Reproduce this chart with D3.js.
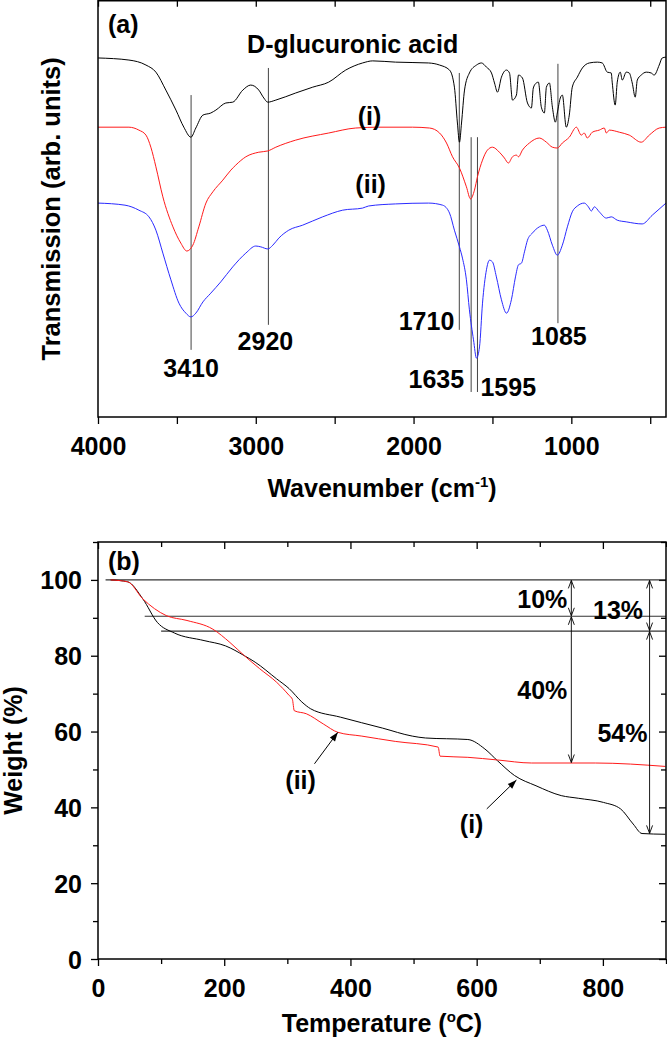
<!DOCTYPE html>
<html><head><meta charset="utf-8">
<script src="https://cdn.jsdelivr.net/npm/d3@7"></script>
<style>
body{margin:0;background:#fff;}
text{font-family:"Liberation Sans",Arial,Helvetica,sans-serif;font-weight:bold;fill:#000;}
</style></head><body>
<svg id="c" width="667" height="1039"></svg>
<script>
// ---------- Panel (a): FTIR spectra (wavenumber cm-1, transmission arb. units) ----------
const gluWn = [4000,3804,3696,3633,3570,3506,3456,3411,3380,3335,3285,3253,3190,3146,3082,3032,2981,2949,2924,2873,2747,2639,2538,2430,2323,2259,2114,1905,1835,1772,1741,1722,1709,1696,1677,1646,1601,1570,1538,1506,1487,1468,1443,1411,1392,1373,1348,1335,1310,1278,1253,1241,1222,1209,1190,1171,1158,1139,1120,1101,1089,1070,1057,1032,1013,994,962,930,886,835,804,772,747,741,722,709,690,677,652,633,614,595,582,557,525,494,475,443,424,400];
const gluT  = [86.1,85.6,84.4,82.7,78.4,73.6,69.5,67.1,69.3,72.4,72.9,73.6,75.3,75.5,78.4,79.6,78.4,76.5,75.5,76.0,77.7,79.1,80.3,83.2,84.9,85.4,85.1,84.9,84.4,83.2,79.1,70.5,65.9,70.5,78.4,82.5,84.4,84.9,83.9,82.5,80.1,77.9,81.5,83.2,82.5,76.0,77.2,82.0,81.3,75.3,74.1,78.9,80.1,80.3,74.3,72.9,79.1,80.1,74.3,70.7,72.9,76.5,77.2,69.5,72.4,79.1,81.5,83.7,84.9,85.1,84.9,82.7,82.5,80.3,74.8,80.3,82.7,80.8,82.7,82.5,80.1,76.7,80.8,82.0,82.7,82.5,82.0,84.4,86.1,86.3];

const iWn = [4000,3804,3741,3696,3665,3633,3589,3525,3475,3437,3399,3361,3316,3272,3209,3158,3127,3063,2981,2924,2873,2747,2538,2367,2222,2006,1899,1835,1791,1753,1709,1665,1639,1614,1595,1563,1532,1500,1456,1424,1399,1373,1348,1335,1310,1266,1203,1158,1120,1089,1057,1013,968,937,918,899,867,823,791,778,759,696,633,557,506,443,400];
const iT  = [69.5,69.5,68.8,67.6,64.7,60.0,52.8,45.6,41.7,39.8,41.2,45.6,51.3,54.0,56.8,59.2,60.4,62.4,63.5,63.8,64.7,66.4,68.1,69.3,69.5,69.5,69.3,68.1,65.7,62.4,59.7,55.2,52.3,54.4,57.6,61.6,64.0,64.7,63.5,62.1,60.9,62.4,62.8,62.4,64.0,65.7,66.9,65.9,64.7,64.5,65.7,67.1,69.5,67.6,68.1,66.9,68.3,68.8,69.3,68.1,68.8,68.3,67.6,65.9,67.6,69.3,69.5];

const iiWn = [4000,3829,3741,3677,3633,3589,3538,3487,3443,3411,3380,3335,3285,3222,3146,3063,3000,2968,2924,2892,2854,2791,2703,2576,2449,2323,2285,2114,1905,1816,1772,1741,1709,1690,1665,1646,1620,1601,1582,1563,1538,1519,1500,1475,1443,1411,1380,1354,1335,1316,1297,1278,1247,1203,1171,1152,1120,1089,1057,1025,994,962,918,892,873,854,823,778,747,709,652,551,487,400];
const iiT  = [51.3,50.8,49.6,48.0,44.8,39.3,32.9,27.3,24.9,24.0,24.9,27.6,29.7,32.4,36.0,39.3,41.0,40.8,40.3,41.2,42.9,44.8,46.0,48.0,49.6,50.1,50.6,51.1,51.3,50.8,48.9,44.8,40.8,38.1,32.9,25.7,18.5,14.1,16.8,27.3,35.3,37.6,37.2,33.6,28.1,24.9,28.1,33.6,36.5,36.9,39.6,42.4,44.1,45.6,46.0,44.8,41.2,38.8,41.2,45.6,49.2,50.6,51.3,50.4,49.4,50.4,49.2,47.7,48.0,47.2,46.8,46.3,48.4,51.3];

const wnMajorTicks = [4000,3000,2000,1000];
const wnMinorTicks = [3500,2500,1500,500];
// peak markers: wavenumber, top and bottom (arb. units)
const peakWn  = [3410,2920,1710,1635,1595,1085];
const peakTop = [77.2,83.7,82.5,67.1,67.1,84.7];
const peakBot = [16.1,22.1,20.9,6.0,6.0,22.5];

// ---------- Panel (b): TGA ----------
const tgaTempI = [20,47,71,94,121,168,202,232,249,283,303,323,337,384,451,498,519,586,613,633,660,694,734,761,801,828,848,862,899];
const tgaWI    = [100,99.5,95,88.8,86,84,82.6,80,78.3,73.9,71.3,67.8,66,63.8,60.9,58.8,58.3,57.9,55.4,52.3,48.4,45.7,43.1,42.4,41.3,39.6,35.6,33.1,32.9];
const tgaTempII = [20,47,71,108,141,182,209,232,256,283,303,308,311,330,357,380,418,471,539,542,586,633,687,788,899];
const tgaWII    = [100,99.5,95,90.6,89.3,87,83.5,80,76.6,73,69.5,68.5,65.5,64.7,62,59.8,58.8,57.4,55.9,53.5,53.2,52.5,51.7,51.7,50.8];
const tempLabelTicks = [0,200,400,600,800];
const tempMinorTicks = [100,300,500,700,900];
const wLabelTicks = [0,20,40,60,80,100];
const wMinorTicks = [10,30,50,70,90,110];
const levelLines = [100,90.4,86.5];
const levelStart = [12,74,100];

// ---------- drawing ----------
const svg = d3.select('#c');
const L = 98, R = 666;
const aTop = 0.75, aBot = 417, bTop = 542, bBot = 959;
const defs = svg.append('defs');
defs.append('clipPath').attr('id','clipA').append('rect').attr('x',L).attr('y',aTop).attr('width',R-L).attr('height',aBot-aTop);
defs.append('clipPath').attr('id','clipB').append('rect').attr('x',L).attr('y',bTop).attr('width',R-L).attr('height',bBot-bTop);
defs.append('marker').attr('id','openHead').attr('markerUnits','userSpaceOnUse')
  .attr('viewBox','-10 -5 12 10').attr('refX',0).attr('refY',0).attr('markerWidth',12).attr('markerHeight',10)
  .attr('orient','auto-start-reverse')
  .append('path').attr('d','M-8,-3 L0,0 L-8,3').attr('fill','none').attr('stroke','#000').attr('stroke-width',0.9);
defs.append('marker').attr('id','fillHead').attr('markerUnits','userSpaceOnUse')
  .attr('viewBox','-11 -5 12 10').attr('refX',0).attr('refY',0).attr('markerWidth',12).attr('markerHeight',10)
  .attr('orient','auto')
  .append('path').attr('d','M-9,-3.2 L0,0 L-9,3.2 Z').attr('fill','#000');

// Panel A scales
const xA = d3.scaleLinear().domain([4000,400]).range([L,R]);
const yA = d3.scaleLinear().domain([0,100]).range([aBot,0]);

function tickAxis(g, axis){ g.call(axis); g.select('.domain').remove(); g.selectAll('line').attr('stroke','#000').attr('stroke-width',1.3); }

// bottom / top ticks A
const gA = svg.append('g');
gA.append('g').attr('transform',`translate(0,${aBot})`).call(g=>tickAxis(g,
  d3.axisBottom(xA).tickValues(wnMajorTicks.concat(wnMinorTicks)).tickSize(7)
   .tickFormat(d=> wnMajorTicks.includes(d)? d : '')))
  .selectAll('text').attr('font-size',25).attr('y',20).attr('dy','0.71em');
gA.append('g').attr('transform',`translate(0,${aTop})`).call(g=>tickAxis(g,
  d3.axisTop(xA).tickValues(wnMajorTicks.concat(wnMinorTicks)).tickSize(-6).tickFormat('')));

// spectra
const lineA = d3.line().x(d=>xA(d[0])).y(d=>yA(d[1])).curve(d3.curveMonotoneX);
const specG = svg.append('g').attr('clip-path','url(#clipA)');
peakWn.forEach((w,i)=>{
  specG.append('line').attr('x1',xA(w)).attr('x2',xA(w)).attr('y1',yA(peakTop[i])).attr('y2',yA(peakBot[i]))
    .attr('stroke','#444').attr('stroke-width',1);
});
[[gluWn,gluT,'#000'],[iWn,iT,'#ff1a1a'],[iiWn,iiT,'#2a2aff']].forEach(([w,t,c])=>{
  specG.append('path').datum(w.map((d,i)=>[d,t[i]])).attr('d',lineA).attr('fill','none').attr('stroke',c).attr('stroke-width',1);
});
svg.append('rect').attr('x',L).attr('y',aTop).attr('width',R-L).attr('height',aBot-aTop).attr('fill','none').attr('stroke','#000').attr('stroke-width',1.5);

// panel A texts
svg.append('text').attr('x',L+10).attr('y',33).attr('font-size',25).text('(a)');
svg.append('text').attr('x',xA(2386)).attr('y',yA(87.3)).attr('text-anchor','middle').attr('font-size',25).text('D-glucuronic acid');
svg.append('text').attr('x',xA(2279)).attr('y',yA(70.0)).attr('text-anchor','middle').attr('font-size',25).text('(i)');
svg.append('text').attr('x',xA(2272)).attr('y',yA(53.7)).attr('text-anchor','middle').attr('font-size',25).text('(ii)');
const peakLabels = [
  {t:'3410', w:3410, v:9.6, a:'middle', dx:0},
  {t:'2920', w:2920, v:16.1, a:'middle', dx:-3},
  {t:'1710', w:1710, v:20.9, a:'end', dx:-5},
  {t:'1635', w:1635, v:7.0, a:'end', dx:-7},
  {t:'1595', w:1595, v:5.0, a:'start', dx:3},
  {t:'1085', w:1085, v:17.3, a:'middle', dx:1}
];
peakLabels.forEach(p=>{
  svg.append('text').attr('x',xA(p.w)+p.dx).attr('y',yA(p.v)).attr('text-anchor',p.a).attr('font-size',25).text(p.t);
});
const wt = svg.append('text').attr('x',(L+R)/2).attr('y',497).attr('text-anchor','middle').attr('font-size',25);
wt.append('tspan').text('Wavenumber (cm');
wt.append('tspan').attr('font-size',15).attr('dy',-10).text('-1');
wt.append('tspan').attr('dy',10).text(')');
svg.append('text').attr('transform',`translate(60,${(aTop+aBot)/2}) rotate(-90)`).attr('text-anchor','middle').attr('font-size',25.5).text('Transmission (arb. units)');

// Panel B scales
const xB = d3.scaleLinear().domain([0,900]).range([L,R]);
const yB = d3.scaleLinear().domain([0,110]).range([bBot,bTop]);
const gB = svg.append('g');
// bottom: major (labelled) and minor ticks
gB.append('g').attr('transform',`translate(0,${bBot})`).call(g=>tickAxis(g,
  d3.axisBottom(xB).tickValues(tempLabelTicks).tickSize(7)))
  .selectAll('text').attr('font-size',25).attr('y',20).attr('dy','0.71em');
gB.append('g').attr('transform',`translate(0,${bBot})`).call(g=>tickAxis(g,
  d3.axisBottom(xB).tickValues(tempMinorTicks).tickSize(5).tickFormat('')));
gB.append('g').attr('transform',`translate(0,${bTop})`).call(g=>tickAxis(g,
  d3.axisTop(xB).tickValues(tempLabelTicks).tickSize(-7).tickFormat('')));
gB.append('g').attr('transform',`translate(0,${bTop})`).call(g=>tickAxis(g,
  d3.axisTop(xB).tickValues(tempMinorTicks).tickSize(-5).tickFormat('')));
gB.append('g').attr('transform',`translate(${L},0)`).call(g=>tickAxis(g,
  d3.axisLeft(yB).tickValues(wLabelTicks).tickSize(7)))
  .selectAll('text').attr('font-size',25).attr('x',-16).attr('dy','0.36em');
gB.append('g').attr('transform',`translate(${L},0)`).call(g=>tickAxis(g,
  d3.axisLeft(yB).tickValues(wMinorTicks).tickSize(5).tickFormat('')));
gB.append('g').attr('transform',`translate(${R},0)`).call(g=>tickAxis(g,
  d3.axisRight(yB).tickValues(wLabelTicks).tickSize(-7).tickFormat('')));
gB.append('g').attr('transform',`translate(${R},0)`).call(g=>tickAxis(g,
  d3.axisRight(yB).tickValues(wMinorTicks).tickSize(-5).tickFormat('')));

const tgG = svg.append('g').attr('clip-path','url(#clipB)');
levelLines.forEach((v,i)=>{
  tgG.append('line').attr('x1',xB(levelStart[i])).attr('x2',xB(900)).attr('y1',yB(v)).attr('y2',yB(v))
    .attr('stroke','#333').attr('stroke-width',1.1);
});
const lineB = d3.line().x(d=>xB(d[0])).y(d=>yB(d[1])).curve(d3.curveMonotoneX);
tgG.append('path').datum(tgaTempI.map((d,i)=>[d,tgaWI[i]])).attr('d',lineB).attr('fill','none').attr('stroke','#000').attr('stroke-width',1);
tgG.append('path').datum(tgaTempII.map((d,i)=>[d,tgaWII[i]])).attr('d',lineB).attr('fill','none').attr('stroke','#ff1a1a').attr('stroke-width',1);

// measurement arrows
const measures = [[750,100,90.4],[750,90.4,51.7],[874,100,86.5],[874,86.5,33.0]];
measures.forEach(([t,v1,v2])=>{
  svg.append('line').attr('x1',xB(t)).attr('x2',xB(t)).attr('y1',yB(v1)+0.5).attr('y2',yB(v2)-0.5)
    .attr('stroke','#000').attr('stroke-width',0.9)
    .attr('marker-start','url(#openHead)').attr('marker-end','url(#openHead)');
});
// pointer arrows
const pointers = [[343,51.5,380,59.8],[616,39.6,663,47.2]];
pointers.forEach(([t1,v1,t2,v2])=>{
  svg.append('line').attr('x1',xB(t1)).attr('y1',yB(v1)).attr('x2',xB(t2)).attr('y2',yB(v2))
    .attr('stroke','#000').attr('stroke-width',1).attr('marker-end','url(#fillHead)');
});
svg.append('rect').attr('x',L).attr('y',bTop).attr('width',R-L).attr('height',bBot-bTop).attr('fill','none').attr('stroke','#000').attr('stroke-width',1.5);

const bLabels = [['10%',704,95.0],['13%',824,92.1],['40%',704,71.0],['54%',831,59.6],['(ii)',321,47.2],['(i)',592,35.6]];
bLabels.forEach(([t,x,v])=>{
  svg.append('text').attr('x',xB(x)).attr('y',yB(v)).attr('dy','0.36em').attr('text-anchor','middle').attr('font-size',25).text(t);
});
svg.append('text').attr('x',L+10).attr('y',570).attr('font-size',25).text('(b)');
const tt = svg.append('text').attr('x',(L+R)/2).attr('y',1032).attr('text-anchor','middle').attr('font-size',25);
tt.append('tspan').text('Temperature (');
tt.append('tspan').attr('font-size',15).attr('dy',-10).text('o');
tt.append('tspan').attr('dy',10).text('C)');
svg.append('text').attr('transform',`translate(22,${(bTop+bBot)/2}) rotate(-90)`).attr('text-anchor','middle').attr('font-size',25).text('Weight (%)');
</script>
</body></html>
